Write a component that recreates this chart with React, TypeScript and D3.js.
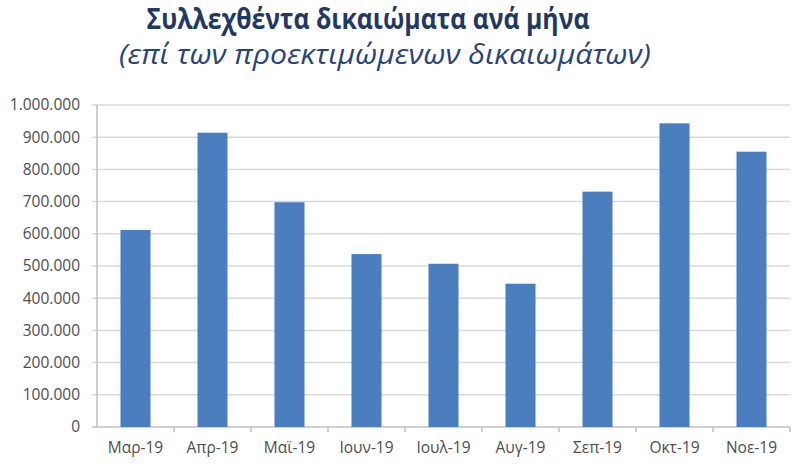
import React from 'react';
import * as d3 from 'd3';

const months = ['Μαρ-19', 'Απρ-19', 'Μαϊ-19', 'Ιουν-19', 'Ιουλ-19', 'Αυγ-19', 'Σεπ-19', 'Οκτ-19', 'Νοε-19'];
const collected = [612000, 914000, 698000, 537000, 507000, 445000, 731000, 943000, 855000];
const yTicks = [0, 100000, 200000, 300000, 400000, 500000, 600000, 700000, 800000, 900000, 1000000];

const title = 'Συλλεχθέντα δικαιώματα ανά μήνα';
const subtitle = '(επί των προεκτιμώμενων δικαιωμάτων)';

const width = 800;
const height = 469;
const margin = { top: 105, right: 10, bottom: 42, left: 97 };

// greek style thousands: 1.000.000
const fmt = (v: number) => v === 0 ? '0' : d3.format(',')(v).replace(/,/g, '.');

const App: React.FC = () => {
    const innerW = width - margin.left - margin.right;
    const innerH = height - margin.top - margin.bottom;

    const x = d3.scaleBand()
        .domain(months)
        .range([0, innerW])
        .paddingInner(0.61)
        .paddingOuter(0.305);

    const y = d3.scaleLinear()
        .domain([0, 1000000])
        .range([innerH, 0]);

    const step = x.step();
    const font = "'Open Sans', 'DejaVu Sans', sans-serif";

    return (
        <svg width={width} height={height} style={{ position: 'absolute', left: 0, top: 0, background: '#fff' }}>
            <text x={368} y={29} textAnchor="middle" fontFamily={font} fontWeight={700}
                fontSize={28} fill="#1f3864" textLength={443} lengthAdjust="spacingAndGlyphs">{title}</text>
            <text x={385} y={64} textAnchor="middle" fontFamily={font} fontStyle="italic"
                fontSize={27} fill="#2b4476" textLength={532} lengthAdjust="spacingAndGlyphs">{subtitle}</text>

            <g transform={`translate(${margin.left},${margin.top})`}>
                {yTicks.map(t => (
                    <g key={t}>
                        <line x1={-5} x2={innerW} y1={y(t)} y2={y(t)}
                            stroke={t === 0 ? '#bfbfbf' : '#d9d9d9'} strokeWidth={1.5} />
                        <text x={-17} y={y(t)} dy="0.35em" textAnchor="end" fontFamily={font}
                            fontSize={15.5} fill="#4d4d4d">{fmt(t)}</text>
                    </g>
                ))}
                <line x1={0} x2={0} y1={0} y2={innerH} stroke="#bfbfbf" strokeWidth={1.5} />
                {months.map((m, i) => (
                    <line key={'tk' + m} x1={step * (i + 1)} x2={step * (i + 1)} y1={innerH} y2={innerH + 5}
                        stroke="#bfbfbf" strokeWidth={1.5} />
                ))}

                {months.map((m, i) => (
                    <rect key={m} x={x(m)} y={y(collected[i])} width={x.bandwidth()}
                        height={innerH - y(collected[i])} fill="#4a7ebf" />
                ))}

                {months.map(m => (
                    <text key={'lb' + m} x={(x(m) ?? 0) + x.bandwidth() / 2} y={innerH + 26}
                        textAnchor="middle" fontFamily={font} fontSize={15.5} fill="#4d4d4d">{m}</text>
                ))}
            </g>
        </svg>
    );
};

export default App;
